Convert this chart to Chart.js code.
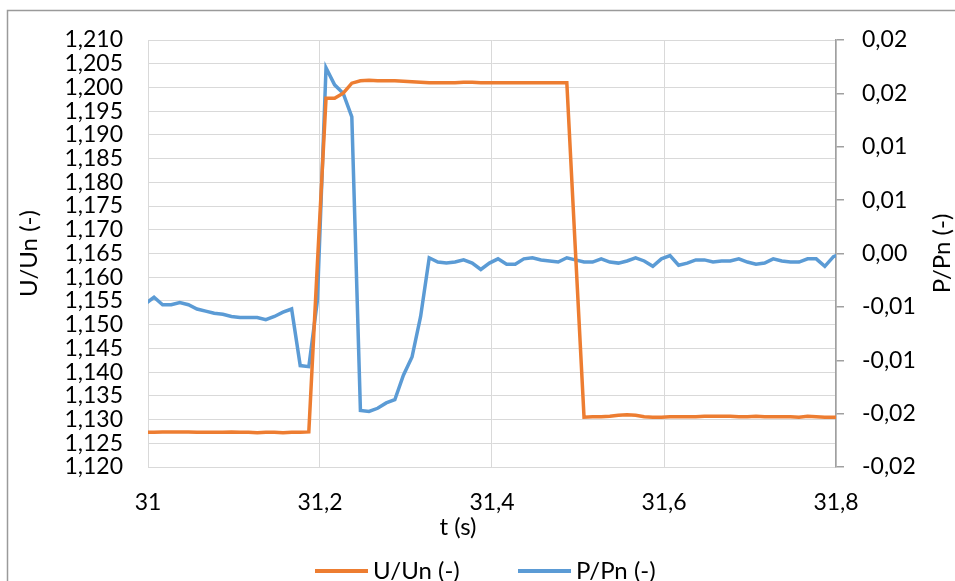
<!DOCTYPE html>
<html>
<head>
<meta charset="utf-8">
<script src="https://cdn.jsdelivr.net/npm/chart.js@4.4.0/dist/chart.umd.min.js"></script>
<style>
  html, body { margin: 0; padding: 0; background: #ffffff; }
  #wrap { width: 955px; height: 581px; position: relative; }
</style>
</head>
<body>
<div id="wrap"><canvas id="c" width="955" height="581"></canvas></div>
<script>
// ---- DATA ----
const seriesLabels = ['U/Un (-)', 'P/Pn (-)'];
const axisTitles = { x: 't (s)', yLeft: 'U/Un (-)', yRight: 'P/Pn (-)' };

const times = [
  30.997, 31.007, 31.017, 31.027, 31.037, 31.047, 31.057, 31.067, 31.077, 31.087,
  31.097, 31.107, 31.117, 31.127, 31.137, 31.147, 31.157, 31.167, 31.177, 31.187,
  31.197, 31.207, 31.217, 31.227, 31.237, 31.247, 31.257, 31.267, 31.277, 31.287,
  31.297, 31.307, 31.317, 31.327, 31.337, 31.347, 31.357, 31.367, 31.377, 31.387,
  31.397, 31.407, 31.417, 31.427, 31.437, 31.447, 31.457, 31.467, 31.477, 31.487,
  31.497, 31.507, 31.517, 31.527, 31.537, 31.547, 31.557, 31.567, 31.577, 31.587,
  31.597, 31.607, 31.617, 31.627, 31.637, 31.647, 31.657, 31.667, 31.677, 31.687,
  31.697, 31.707, 31.717, 31.727, 31.737, 31.747, 31.757, 31.767, 31.777, 31.787,
  31.797, 31.807
];

const uValues = [
  1.1273,
  1.1273, 1.1274, 1.1274, 1.1274, 1.1274, 1.1273, 1.1273, 1.1273, 1.1273, 1.1274,
  1.1273, 1.1273, 1.1272, 1.1273, 1.1273, 1.1272, 1.1273, 1.1273, 1.1274,
  1.1630,
  1.1977, 1.1977, 1.1988, 1.2009, 1.2014, 1.2015, 1.2014, 1.2014, 1.2014,
  1.2013, 1.2012, 1.2011, 1.2010, 1.2010, 1.2010, 1.2010, 1.2011, 1.2011, 1.2010,
  1.2010, 1.2010, 1.2010, 1.2010, 1.2010, 1.2010, 1.2010, 1.2010, 1.2010, 1.2010,
  1.1656,
  1.1305, 1.1306, 1.1306, 1.1307, 1.1309, 1.1310, 1.1309, 1.1306, 1.1305, 1.1305,
  1.1306, 1.1306, 1.1306, 1.1306, 1.1307, 1.1307, 1.1307, 1.1307, 1.1306, 1.1306,
  1.1307, 1.1306, 1.1306, 1.1306, 1.1306, 1.1305, 1.1307, 1.1306, 1.1305, 1.1305,
  1.1305
];

const pValues = [
  -0.0047,
  -0.0041, -0.0048, -0.0048, -0.0046, -0.0048, -0.0052, -0.0054, -0.0056, -0.0057, -0.0059,
  -0.0060, -0.0060, -0.0060, -0.0062, -0.0059, -0.0055, -0.0052, -0.0105, -0.0106, -0.0044,
  0.0174, 0.0158, 0.0150, 0.0128, -0.0147, -0.0148, -0.0145, -0.0140, -0.0137, -0.0114,
  -0.0097, -0.0059, -0.0004, -0.0008, -0.0009, -0.0008, -0.0006, -0.0009, -0.0015, -0.0009,
  -0.0005, -0.0010, -0.0010, -0.0005, -0.0004, -0.0006, -0.0007, -0.0008, -0.0004, -0.0006,
  -0.0008, -0.0008, -0.0005, -0.0008, -0.0009, -0.0007, -0.0004, -0.0007, -0.0012, -0.0005,
  -0.0002, -0.0011, -0.0009, -0.0006, -0.0006, -0.0008, -0.0007, -0.0007, -0.0005, -0.0008,
  -0.0010, -0.0009, -0.0005, -0.0007, -0.0008, -0.0008, -0.0005, -0.0005, -0.0012, -0.0003,
  0.0000
];

// right-axis tick labels, bottom to top
const rightTickLabels = ['-0,02', '-0,02', '-0,01', '-0,01', '0,00', '0,01', '0,01', '0,02', '0,02'];

// ---- STYLE ----
const FONT = 'Lato';
const ORANGE = '#ED7D31';
const BLUE = '#5B9BD5';
const GRID = '#d9d9d9';
const AXIS = '#a0a0a0';

const uPoints = times.map((t, i) => ({ x: t, y: uValues[i] }));
const pPoints = times.map((t, i) => ({ x: t, y: pValues[i] }));

const decorPlugin = {
  id: 'decor',
  beforeDraw(chart) {
    const ctx = chart.ctx;
    ctx.save();
    ctx.fillStyle = '#ffffff';
    ctx.fillRect(0, 0, chart.width, chart.height);
    ctx.strokeStyle = '#9a9a9a';
    ctx.lineWidth = 1.5;
    ctx.strokeRect(7.5, 10.5, chart.width + 20, chart.height + 20);
    ctx.restore();
  },
  afterDraw(chart) {
    const ctx = chart.ctx;
    const ca = chart.chartArea;
    const midY = (ca.top + ca.bottom) / 2;
    ctx.save();
    ctx.fillStyle = '#000000';
    ctx.font = '24px ' + FONT;
    ctx.textAlign = 'center';
    ctx.textBaseline = 'middle';
    // left title
    ctx.save();
    ctx.translate(29, midY);
    ctx.rotate(-Math.PI / 2);
    ctx.fillText(axisTitles.yLeft, 0, 0);
    ctx.restore();
    // right title
    ctx.save();
    ctx.translate(942, midY);
    ctx.rotate(-Math.PI / 2);
    ctx.fillText(axisTitles.yRight, 0, 0);
    ctx.restore();
    // x title
    ctx.fillText(axisTitles.x, 458, 527);
    // legend
    const items = [
      { x: 315, color: ORANGE, text: chart.data.datasets[0].label },
      { x: 518, color: BLUE, text: chart.data.datasets[1].label }
    ];
    const ly = 571;
    ctx.textAlign = 'left';
    items.forEach(it => {
      ctx.strokeStyle = it.color;
      ctx.lineWidth = 4;
      ctx.lineCap = 'butt';
      ctx.beginPath();
      ctx.moveTo(it.x, ly);
      ctx.lineTo(it.x + 53, ly);
      ctx.stroke();
      ctx.fillText(it.text, it.x + 58, ly);
    });
    ctx.restore();
  }
};

const tickFont = { family: FONT, size: 23 };

new Chart(document.getElementById('c'), {
  type: 'line',
  data: {
    datasets: [
      {
        label: seriesLabels[0],
        data: uPoints,
        yAxisID: 'y',
        borderColor: ORANGE,
        backgroundColor: ORANGE,
        borderWidth: 3.5,
        pointRadius: 0,
        tension: 0,
        fill: false
      },
      {
        label: seriesLabels[1],
        data: pPoints,
        yAxisID: 'y1',
        borderColor: BLUE,
        backgroundColor: BLUE,
        borderWidth: 3.5,
        pointRadius: 0,
        tension: 0,
        fill: false
      }
    ]
  },
  options: {
    responsive: false,
    animation: false,
    devicePixelRatio: 1,
    layout: { padding: { top: 40, left: 0, right: 0, bottom: 0 } },
    plugins: {
      legend: { display: false },
      title: { display: false },
      tooltip: { enabled: false }
    },
    scales: {
      x: {
        type: 'linear',
        position: 'bottom',
        min: 31,
        max: 31.8,
        ticks: {
          stepSize: 0.2,
          autoSkip: false,
          maxRotation: 0,
          padding: 22,
          color: '#000',
          font: tickFont,
          callback: v => String(Number(Number(v).toFixed(1))).replace('.', ',')
        },
        grid: { color: GRID, lineWidth: 1, drawTicks: false },
        border: { color: GRID, width: 1 },
        afterFit: s => { s.height = 114; }
      },
      y: {
        type: 'linear',
        position: 'left',
        min: 1.12,
        max: 1.21,
        ticks: {
          stepSize: 0.005,
          autoSkip: false,
          padding: 25,
          color: '#000',
          font: tickFont,
          callback: v => Number(v).toFixed(3).replace('.', ',')
        },
        grid: { color: GRID, lineWidth: 1, drawTicks: false },
        border: { color: GRID, width: 1 },
        afterFit: s => { s.width = 148; }
      },
      y1: {
        type: 'linear',
        position: 'right',
        min: -0.02,
        max: 0.02,
        ticks: {
          stepSize: 0.005,
          autoSkip: false,
          padding: 18,
          color: '#000',
          font: tickFont,
          callback: (v, i) => rightTickLabels[i]
        },
        grid: { drawOnChartArea: false, drawTicks: true, tickLength: 8, color: AXIS, lineWidth: 1.5 },
        border: { color: AXIS, width: 1.5 },
        afterFit: s => { s.width = 119; }
      }
    }
  },
  plugins: [decorPlugin]
});
</script>
</body>
</html>
